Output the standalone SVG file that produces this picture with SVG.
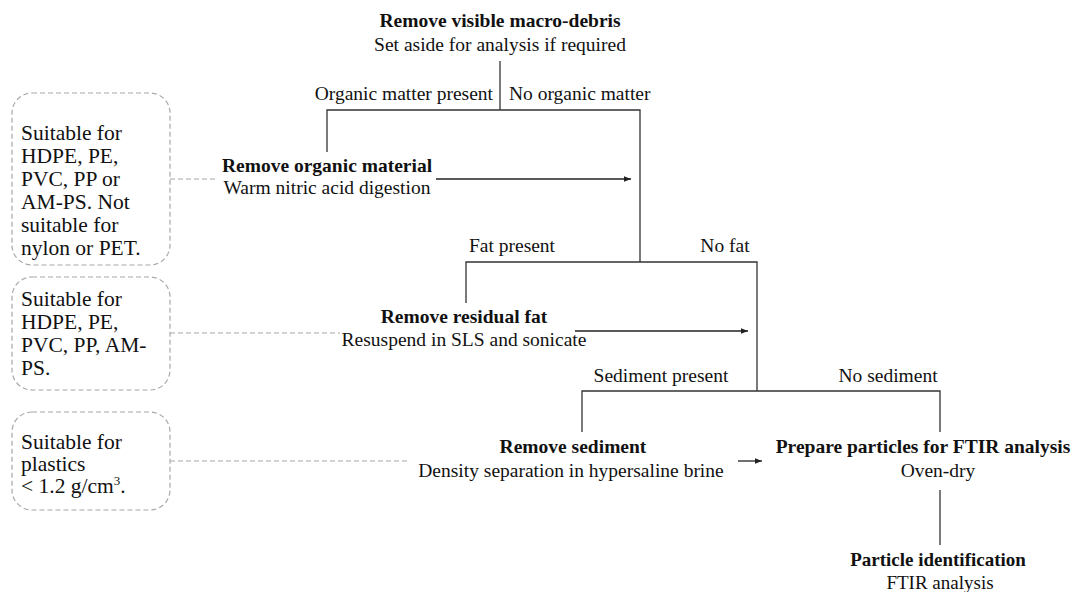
<svg xmlns="http://www.w3.org/2000/svg" width="1083" height="592" viewBox="0 0 1083 592">
<defs>
<marker id="ah" viewBox="0 0 10 10" refX="10" refY="5" markerWidth="7" markerHeight="7" markerUnits="userSpaceOnUse" orient="auto">
<path d="M0,1 L10,5 L0,9 z" fill="#222"/>
</marker>
<style>
text{font-family:"Liberation Serif","Times New Roman",serif;fill:#111;font-size:19.5px}
.b{font-weight:bold}
.m{text-anchor:middle}
.e{text-anchor:end}
.s{font-size:19px}
.bx{font-size:21.5px}
.ln{fill:none;stroke:#333;stroke-width:1.3}
.ar{fill:none;stroke:#222;stroke-width:1.3;marker-end:url(#ah)}
.dash{fill:none;stroke:#a8a8a8;stroke-width:1.2;stroke-dasharray:5,3}
</style>
</defs>
<rect width="1083" height="592" fill="#fff"/>

<g id="connectors">
<path class="ln" d="M500 61 V110"/>
<path class="ln" d="M327 152 V110 H640 V262"/>
<path class="ln" d="M466 303 V262 H757 V391"/>
<path class="ln" d="M582 432 V391 H940 V432"/>
<path class="ln" d="M940 490 V545"/>
<path class="ar" d="M436 179 H631"/>
<path class="ar" d="M575 331 H748"/>
<path class="ar" d="M738 461 H762"/>
<path class="dash" d="M170 179 H218"/>
<path class="dash" d="M170 333 H340"/>
<path class="dash" d="M170 461 H410"/>
<text class="e" x="493" y="100">Organic matter present</text>
<text x="509" y="100">No organic matter</text>
<text class="m" x="512" y="252">Fat present</text>
<text class="m" x="725" y="252">No fat</text>
<text class="m" x="661" y="382">Sediment present</text>
<text class="m" x="888" y="382">No sediment</text>
</g>

<g id="n-debris">
<text class="m b" x="500" y="27">Remove visible macro-debris</text>
<text class="m" x="500" y="51">Set aside for analysis if required</text>
</g>

<g id="n-organic">
<text class="m b" x="327" y="172">Remove organic material</text>
<text class="m" x="327" y="194">Warm nitric acid digestion</text>
</g>

<g id="n-fat">
<text class="m b" x="464" y="323">Remove residual fat</text>
<text class="m" x="464" y="346">Resuspend in SLS and sonicate</text>
</g>

<g id="n-sediment">
<text class="m b" x="573" y="453">Remove sediment</text>
<text class="m" x="571" y="477">Density separation in hypersaline brine</text>
</g>

<g id="n-prepare">
<text class="m b" x="923" y="453">Prepare particles for FTIR analysis</text>
<text class="m" x="938" y="477">Oven-dry</text>
</g>

<g id="n-ident">
<text class="m b s" x="938" y="566">Particle identification</text>
<text class="m s" x="940" y="589">FTIR analysis</text>
</g>

<g id="note-organic">
<rect class="dash" x="12" y="93" width="158" height="172" rx="20"/>
<text class="bx" x="21" y="140">Suitable for</text>
<text class="bx" x="21" y="163">HDPE, PE,</text>
<text class="bx" x="21" y="186">PVC, PP or</text>
<text class="bx" x="21" y="209">AM-PS. Not</text>
<text class="bx" x="21" y="232">suitable for</text>
<text class="bx" x="21" y="255">nylon or PET.</text>
</g>

<g id="note-fat">
<rect class="dash" x="12" y="277" width="158" height="113" rx="20"/>
<text class="bx" x="21" y="306">Suitable for</text>
<text class="bx" x="21" y="329">HDPE, PE,</text>
<text class="bx" x="21" y="352">PVC, PP, AM-</text>
<text class="bx" x="21" y="375">PS.</text>
</g>

<g id="note-sediment">
<rect class="dash" x="12" y="412" width="158" height="98" rx="20"/>
<text class="bx" x="21" y="449">Suitable for</text>
<text class="bx" x="21" y="471">plastics</text>
<text class="bx" x="21" y="493">&lt; 1.2 g/cm<tspan font-size="13" dy="-8">3</tspan><tspan dy="8">.</tspan></text>
</g>
</svg>
